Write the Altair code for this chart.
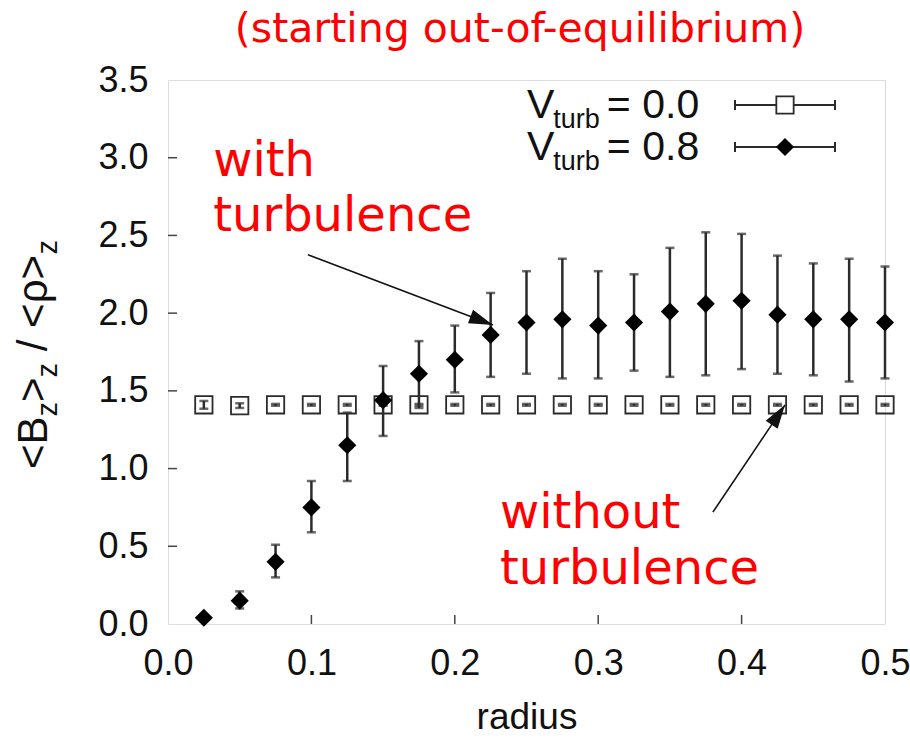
import altair as alt
import pandas as pd

# ---------------- data ----------------
radius = [0.025, 0.05, 0.075, 0.1, 0.125, 0.15, 0.175, 0.2, 0.225, 0.25,
          0.275, 0.3, 0.325, 0.35, 0.375, 0.4, 0.425, 0.45, 0.475, 0.5]
turb_mean = [0.04, 0.15, 0.40, 0.75, 1.15, 1.44, 1.61, 1.70, 1.86, 1.94,
             1.96, 1.92, 1.94, 2.01, 2.06, 2.08, 1.99, 1.96, 1.96, 1.94]
turb_lo = [0.02, 0.10, 0.30, 0.59, 0.92, 1.21, 1.39, 1.49, 1.59, 1.61,
           1.58, 1.58, 1.63, 1.59, 1.60, 1.64, 1.61, 1.60, 1.56, 1.58]
turb_hi = [0.06, 0.21, 0.51, 0.92, 1.36, 1.66, 1.82, 1.92, 2.13, 2.27,
           2.35, 2.27, 2.25, 2.42, 2.52, 2.51, 2.37, 2.32, 2.35, 2.30]
noturb_mean = [1.41, 1.405, 1.41, 1.41, 1.41, 1.41, 1.41, 1.41, 1.41, 1.41,
               1.41, 1.41, 1.41, 1.41, 1.41, 1.41, 1.41, 1.41, 1.41, 1.41]
noturb_lo = [1.385, 1.39, 1.404, 1.404, 1.404, 1.404, 1.404, 1.404, 1.404, 1.404,
             1.404, 1.404, 1.404, 1.404, 1.404, 1.404, 1.404, 1.404, 1.404, 1.404]
noturb_hi = [1.435, 1.42, 1.416, 1.416, 1.416, 1.416, 1.416, 1.416, 1.416, 1.416,
             1.416, 1.416, 1.416, 1.416, 1.416, 1.416, 1.416, 1.416, 1.416, 1.416]

x_ticks = [0.0, 0.1, 0.2, 0.3, 0.4, 0.5]
y_ticks = [0.0, 0.5, 1.0, 1.5, 2.0, 2.5, 3.0, 3.5]
inner_x_ticks = [0.1, 0.2, 0.3, 0.4]
inner_y_ticks = [0.5, 1.0, 1.5, 2.0, 2.5, 3.0]

title_text = "(starting out-of-equilibrium)"
legend_values = ["0.0", "0.8"]

# annotation text and arrows (in data units)
ann_text = ["with", "turbulence", "without", "turbulence"]
ann_x = [0.0315, 0.0315, 0.2315, 0.2315]
ann_y = [2.97, 2.62, 0.71, 0.35]
arrow_x0 = [0.0976, 0.380]
arrow_y0 = [2.375, 0.72]
arrow_x1 = [0.2266, 0.4303]
arrow_y1 = [1.924, 1.41]
arrow_angle = [110.7, 33.9]

W, H = 717, 544
AXIS_FONT = "Liberation Sans"
RED = "#ff0000"
DARK = "#2b2b2b"

df_t = pd.DataFrame({"r": radius, "m": turb_mean, "lo": turb_lo, "hi": turb_hi})
df_n = pd.DataFrame({"r": radius, "m": noturb_mean, "lo": noturb_lo, "hi": noturb_hi})

xs = alt.Scale(domain=[0, 0.5], nice=False, zero=False)
ys = alt.Scale(domain=[0, 3.5], nice=False, zero=False)

X = alt.X("r:Q", scale=xs,
          axis=alt.Axis(values=x_ticks, format=".1f", title="radius",
                        ticks=False, domain=False, grid=False, labelFlush=False,
                        labelFont=AXIS_FONT, labelFontSize=36, labelColor="#111",
                        labelPadding=22, titleFont=AXIS_FONT, titleFontSize=37,
                        titleFontWeight="normal", titleColor="#111", titlePadding=18))
Y = alt.Y("m:Q", scale=ys,
          axis=alt.Axis(values=y_ticks, format=".1f", title=None,
                        ticks=False, domain=False, grid=False, labelFlush=False,
                        labelFont=AXIS_FONT, labelFontSize=36, labelColor="#111",
                        labelPadding=20))

# no-turbulence series
n_base = alt.Chart(df_n)
n_err = n_base.mark_rule(color=DARK, strokeWidth=2.5).encode(
    x=alt.X("r:Q", scale=xs), y=alt.Y("lo:Q", scale=ys), y2="hi:Q")
n_cap_lo = n_base.mark_tick(orient="horizontal", color=DARK, size=9, thickness=2.5).encode(
    x=alt.X("r:Q", scale=xs), y=alt.Y("lo:Q", scale=ys))
n_cap_hi = n_base.mark_tick(orient="horizontal", color=DARK, size=9, thickness=2.5).encode(
    x=alt.X("r:Q", scale=xs), y=alt.Y("hi:Q", scale=ys))
n_pts = n_base.mark_point(shape="square", filled=False, size=300, color=DARK,
                          strokeWidth=1.8, opacity=1).encode(x=X, y=Y)

# turbulence series
t_base = alt.Chart(df_t)
t_err = t_base.mark_rule(color=DARK, strokeWidth=2.5).encode(
    x=alt.X("r:Q", scale=xs), y=alt.Y("lo:Q", scale=ys), y2="hi:Q")
t_cap_lo = t_base.mark_tick(orient="horizontal", color=DARK, size=9, thickness=2.5).encode(
    x=alt.X("r:Q", scale=xs), y=alt.Y("lo:Q", scale=ys))
t_cap_hi = t_base.mark_tick(orient="horizontal", color=DARK, size=9, thickness=2.5).encode(
    x=alt.X("r:Q", scale=xs), y=alt.Y("hi:Q", scale=ys))
t_pts = t_base.mark_point(shape="diamond", filled=True, size=330, color="#000",
                          opacity=1).encode(x=alt.X("r:Q", scale=xs), y=alt.Y("m:Q", scale=ys))

# inward tick marks
xt = alt.Chart(pd.DataFrame({"v": inner_x_ticks})).mark_rule(color="#444", strokeWidth=1.5).encode(
    x=alt.X("v:Q", scale=xs), y=alt.value(H), y2=alt.value(H - 9))
yt = alt.Chart(pd.DataFrame({"v": inner_y_ticks})).mark_rule(color="#444", strokeWidth=1.5).encode(
    y=alt.Y("v:Q", scale=ys), x=alt.value(0), x2=alt.value(9))

# title
title = alt.Chart(pd.DataFrame({"t": [title_text]})).mark_text(
    font="DejaVu Sans", fontSize=41, color=RED, align="center", baseline="middle").encode(
    text="t:N", x=alt.value(352), y=alt.value(-50))

# red annotations
df_ann = pd.DataFrame({"t": ann_text, "x": ann_x, "y": ann_y})
ann = alt.Chart(df_ann).mark_text(font="DejaVu Sans", fontSize=48, color=RED,
                                  align="left", baseline="middle").encode(
    text="t:N", x=alt.X("x:Q", scale=xs), y=alt.Y("y:Q", scale=ys))

# arrows
df_arr = pd.DataFrame({"x0": arrow_x0, "y0": arrow_y0, "x1": arrow_x1, "y1": arrow_y1,
                       "a": arrow_angle})
arr_line = alt.Chart(df_arr).mark_rule(color="#111", strokeWidth=1.6).encode(
    x=alt.X("x0:Q", scale=xs), y=alt.Y("y0:Q", scale=ys), x2="x1:Q", y2="y1:Q")
arr_head = alt.Chart(df_arr).mark_point(shape="M0,0L-0.3,1L0.3,1Z", filled=True,
                                        size=2300, color="#111", opacity=1).encode(
    x=alt.X("x1:Q", scale=xs), y=alt.Y("y1:Q", scale=ys), angle=alt.Angle("a:Q", scale=None))

# legend (manual, with subscripts)
LEG_FS, LEG_SUB = 41, 27
LX = 359          # left of "V" (px from plot left)
row_y = [25, 67]  # middle of rows (px from plot top)
x_sub = LX + 0.667 * LEG_FS - 1
x_eq = x_sub + 1.723 * LEG_SUB + 7
leg_layers = []
for i, val in enumerate(legend_values):
    yy = row_y[i]
    d = pd.DataFrame({"v": ["V"], "s": ["turb"], "e": ["= " + val]})
    leg_layers.append(alt.Chart(d).mark_text(font=AXIS_FONT, fontSize=LEG_FS, color="#111",
                                             align="left", baseline="alphabetic").encode(
        text="v:N", x=alt.value(LX), y=alt.value(yy + 13)))
    leg_layers.append(alt.Chart(d).mark_text(font=AXIS_FONT, fontSize=LEG_SUB, color="#111",
                                             align="left", baseline="alphabetic").encode(
        text="s:N", x=alt.value(x_sub), y=alt.value(yy + 23)))
    leg_layers.append(alt.Chart(d).mark_text(font=AXIS_FONT, fontSize=LEG_FS, color="#111",
                                             align="left", baseline="alphabetic").encode(
        text="e:N", x=alt.value(x_eq), y=alt.value(yy + 13)))
    leg_layers.append(alt.Chart(d).mark_rule(color=DARK, strokeWidth=2).encode(
        x=alt.value(567), x2=alt.value(667), y=alt.value(yy)))
    leg_layers.append(alt.Chart(d).mark_rule(color=DARK, strokeWidth=2).encode(
        x=alt.value(567), y=alt.value(yy - 5), y2=alt.value(yy + 5)))
    leg_layers.append(alt.Chart(d).mark_rule(color=DARK, strokeWidth=2).encode(
        x=alt.value(667), y=alt.value(yy - 5), y2=alt.value(yy + 5)))
    if i == 0:
        leg_layers.append(alt.Chart(d).mark_point(shape="square", filled=True, size=300,
                                                  fill="white", stroke=DARK, strokeWidth=1.8,
                                                  opacity=1).encode(
            x=alt.value(617), y=alt.value(yy)))
    else:
        leg_layers.append(alt.Chart(d).mark_point(shape="diamond", filled=True, size=330,
                                                  color="#000", opacity=1).encode(
            x=alt.value(617), y=alt.value(yy)))

# y-axis title built from pieces, rotated (text reads bottom to top)
main_fs, sub_fs = 42, 29
ytitle_pieces = ["<B", "z", ">", "z", "/", "<ρ>", "z"]
ytitle_sub = [False, True, False, True, False, False, True]
ytitle_w = [(0.584 + 0.667) * main_fs, 0.5 * sub_fs, 0.584 * main_fs,
            0.5 * sub_fs + 0.278 * main_fs, 0.278 * main_fs + 0.278 * main_fs,
            (0.584 * 2 + 0.578) * main_fs, 0.5 * sub_fs]
yt_layers = []
off = 0.0
for p, sub, w in zip(ytitle_pieces, ytitle_sub, ytitle_w):
    d = pd.DataFrame({"t": [p]})
    yt_layers.append(alt.Chart(d).mark_text(font=AXIS_FONT, fontSize=sub_fs if sub else main_fs,
                                            color="#111", align="left", baseline="alphabetic",
                                            angle=270, dx=off, dy=10 if sub else 0).encode(
        text="t:N", x=alt.value(-121), y=alt.value(389)))
    off += w

chart = alt.layer(
    n_err, n_cap_lo, n_cap_hi, n_pts,
    t_err, t_cap_lo, t_cap_hi, t_pts,
    xt, yt, title, ann, arr_line, arr_head,
    *leg_layers, *yt_layers
).properties(
    width=W, height=H,
    autosize=alt.AutoSizeParams(type="none"),
    padding={"left": 168, "top": 80, "right": 25, "bottom": 117},
).configure_view(stroke="#444", strokeWidth=2.2).configure(background="white")

chart.save("out.html", embed_options={"renderer": "svg", "actions": False})
